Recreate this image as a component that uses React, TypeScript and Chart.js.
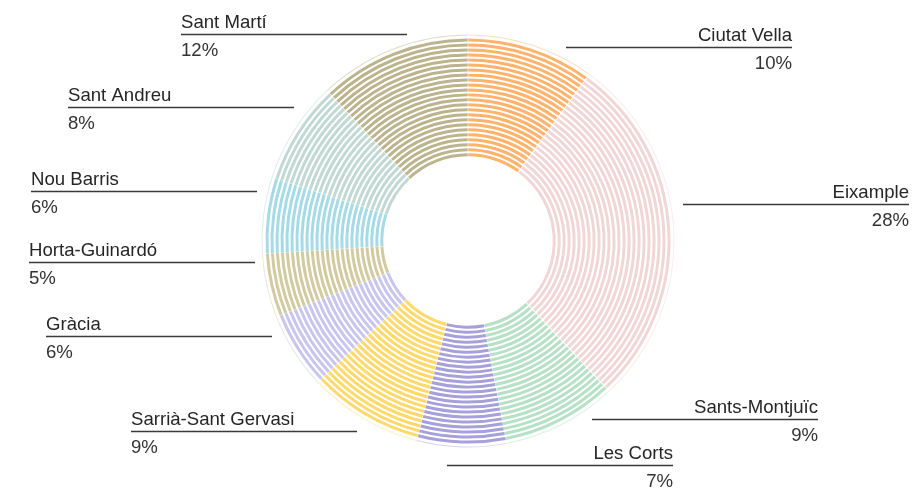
import React, { useEffect, useRef } from "react";
import { Chart, registerables } from "chart.js";

Chart.register(...registerables);

const DISTRICTS = [
  "Ciutat Vella",
  "Eixample",
  "Sants-Montjuïc",
  "Les Corts",
  "Sarrià-Sant Gervasi",
  "Gràcia",
  "Horta-Guinardó",
  "Nou Barris",
  "Sant Andreu",
  "Sant Martí",
];
const SHARES = [10, 28, 9, 7, 9, 6, 5, 6, 8, 12];
const COLORS = [
  "#FFB36C",
  "#F1D6D6",
  "#B6E1C6",
  "#A8A0DA",
  "#FFD96C",
  "#C8C5EE",
  "#D3CBA0",
  "#A5DBE6",
  "#C2D9D3",
  "#BCB48D",
];
// label layout: side and inner end of the leader line relative to centre
const LABEL_SIDE = ["r", "r", "r", "r", "l", "l", "l", "l", "l", "l"];
const LABEL_DX = [98, 215, 124, -21, -111, -196, -213, -211, -174, -61];
const LABEL_DY = [-194.5, -37, 178, 224, 190, 95, 21, -50, -134, -207];

const STRIPES = 24;
const LINE_LEN = 226;

function withAlpha(hex: string, a: number) {
  const r = parseInt(hex.slice(1, 3), 16);
  const g = parseInt(hex.slice(3, 5), 16);
  const b = parseInt(hex.slice(5, 7), 16);
  return `rgba(${r},${g},${b},${a})`;
}

const labelPlugin = {
  id: "districtLabels",
  afterDraw(chart: any) {
    const meta = chart.getDatasetMeta(0);
    const arc = meta.data[0];
    if (!arc) return;
    const cx = arc.x;
    const cy = arc.y;
    const ctx = chart.ctx;
    ctx.save();
    DISTRICTS.forEach((name, i) => {
      const y = Math.round(cy + LABEL_DY[i]) + 0.5;
      const inner = cx + LABEL_DX[i];
      const outer = LABEL_SIDE[i] === "r" ? inner + LINE_LEN : inner - LINE_LEN;
      ctx.strokeStyle = "#3a3a3a";
      ctx.lineWidth = 1.5;
      ctx.beginPath();
      ctx.moveTo(inner, y);
      ctx.lineTo(outer, y);
      ctx.stroke();
      ctx.fillStyle = "#262626";
      ctx.font = '18.6px "Liberation Sans", Arial, sans-serif';
      ctx.textAlign = LABEL_SIDE[i] === "r" ? "right" : "left";
      ctx.textBaseline = "alphabetic";
      ctx.fillText(name, outer, y - 6.5);
      ctx.fillStyle = "#333333";
      ctx.fillText(SHARES[i] + "%", outer, y + 21);
    });
    ctx.restore();
  },
};

export default function App() {
  const ref = useRef<HTMLCanvasElement | null>(null);
  useEffect(() => {
    document.body.style.margin = "0";
    const canvas = ref.current;
    if (!canvas) return;
    const datasets: any[] = [];
    datasets.push({
      data: SHARES,
      backgroundColor: COLORS.map((c) => withAlpha(c, 0.45)),
      weight: 1,
    });
    datasets.push({
      data: SHARES,
      backgroundColor: "rgba(255,255,255,0)",
      weight: 3,
    });
    for (let s = 0; s < STRIPES; s++) {
      datasets.push({
        data: SHARES,
        backgroundColor: COLORS,
        weight: 3,
      });
      if (s < STRIPES - 1) {
        datasets.push({
          data: SHARES,
          backgroundColor: "rgba(255,255,255,0)",
          weight: 2,
        });
      }
    }
    const chart = new Chart(canvas, {
      type: "doughnut",
      data: { labels: DISTRICTS, datasets },
      options: {
        responsive: false,
        animation: false,
        cutout: 84,
        spacing: 1.5,
        borderWidth: 0,
        layout: { padding: { top: 34.5, bottom: 40.5, left: 261.5, right: 238.5 } },
        plugins: { legend: { display: false }, tooltip: { enabled: false } },
        elements: { arc: { borderWidth: 0 } },
      } as any,
      plugins: [labelPlugin],
    });
    return () => chart.destroy();
  }, []);
  return (
    <div style={{ width: 913, height: 488 }}>
      <canvas ref={ref} width={913} height={488} style={{ display: "block" }} />
    </div>
  );
}
